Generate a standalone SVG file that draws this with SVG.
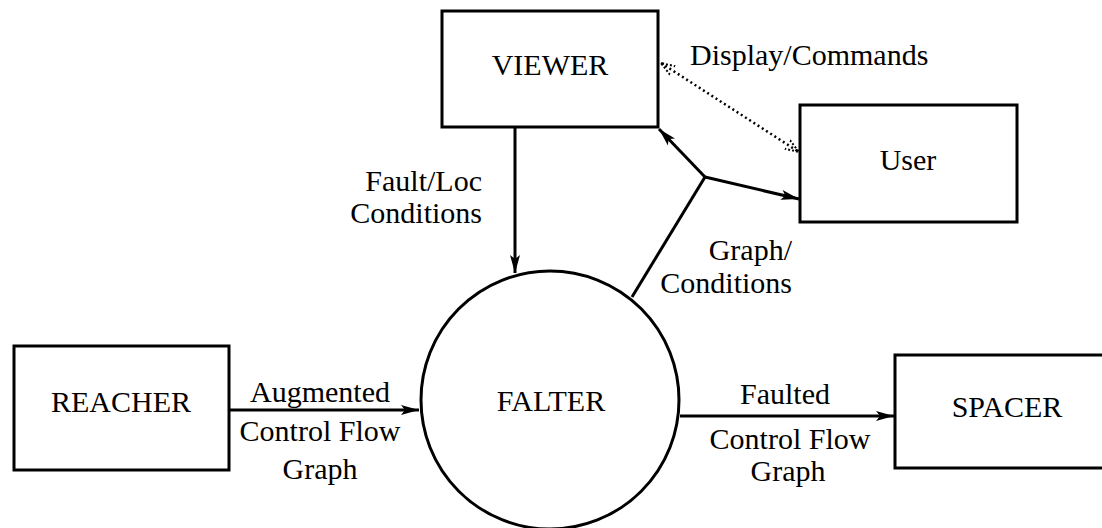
<svg xmlns="http://www.w3.org/2000/svg" width="1102" height="528" viewBox="0 0 1102 528">
  <style>
    .box { fill: #fff; stroke: #000; stroke-width: 3; }
    .lbl { font-family: "Liberation Serif", "Times New Roman", serif; font-size: 30px; fill: #000; }
    .edge { font-family: "Liberation Serif", "Times New Roman", serif; font-size: 30px; fill: #000; }
    .mid { text-anchor: middle; }
    .end { text-anchor: end; }
    .ln { fill: none; stroke: #000; stroke-width: 3; }
    .dot { fill: none; stroke: #000; stroke-width: 2.5; stroke-dasharray: 2 3; }
  </style>
  <defs>
    <marker id="arr" markerUnits="userSpaceOnUse" markerWidth="20" markerHeight="12" refX="18" refY="6" orient="auto">
      <path d="M0,1 L18,6 L0,11 L4,6 Z" fill="#000"/>
    </marker>
    <marker id="darr" markerUnits="userSpaceOnUse" markerWidth="16" markerHeight="12" refX="14" refY="6" orient="auto-start-reverse">
      <path d="M0,1 L14,6 L0,11" fill="none" stroke="#000" stroke-width="2" stroke-dasharray="2 2"/>
    </marker>
  </defs>

  <g id="connectors">
    <line class="ln" x1="229" y1="410" x2="419" y2="410" marker-end="url(#arr)"/>
    <line class="ln" x1="680" y1="416" x2="894" y2="416" marker-end="url(#arr)"/>
    <line class="ln" x1="515" y1="127" x2="515" y2="273" marker-end="url(#arr)"/>
    <polyline class="ln" points="632,297 705,177"/>
    <line class="ln" x1="705" y1="177" x2="659" y2="129" marker-end="url(#arr)"/>
    <line class="ln" x1="705" y1="177" x2="799" y2="199" marker-end="url(#arr)"/>
    <line class="dot" x1="661" y1="63" x2="799" y2="152" marker-start="url(#darr)" marker-end="url(#darr)"/>
  </g>

  <g id="edge-labels">
    <text class="edge" x="690" y="65">Display/Commands</text>
    <text class="edge end" x="482" y="191">Fault/Loc</text>
    <text class="edge end" x="482" y="223">Conditions</text>
    <text class="edge end" x="792" y="260">Graph/</text>
    <text class="edge end" x="792" y="293">Conditions</text>
    <text class="edge mid" x="320" y="402">Augmented</text>
    <text class="edge mid" x="320" y="441">Control Flow</text>
    <text class="edge mid" x="320" y="479">Graph</text>
    <text class="edge mid" x="785" y="404">Faulted</text>
    <text class="edge mid" x="790" y="449">Control Flow</text>
    <text class="edge mid" x="788" y="481">Graph</text>
  </g>

  <g id="viewer">
    <rect class="box" x="442" y="11" width="216" height="116"/>
    <text class="lbl mid" x="550" y="75">VIEWER</text>
  </g>
  <g id="user">
    <rect class="box" x="800" y="105" width="217" height="117"/>
    <text class="lbl mid" x="908" y="170">User</text>
  </g>
  <g id="reacher">
    <rect class="box" x="14" y="346" width="215" height="124"/>
    <text class="lbl mid" x="121" y="412">REACHER</text>
  </g>
  <g id="falter">
    <circle class="box" cx="550" cy="400" r="129"/>
    <text class="lbl mid" x="551" y="411">FALTER</text>
  </g>
  <g id="spacer">
    <rect class="box" x="895" y="355" width="240" height="113"/>
    <text class="lbl mid" x="1007" y="417">SPACER</text>
  </g>
</svg>
